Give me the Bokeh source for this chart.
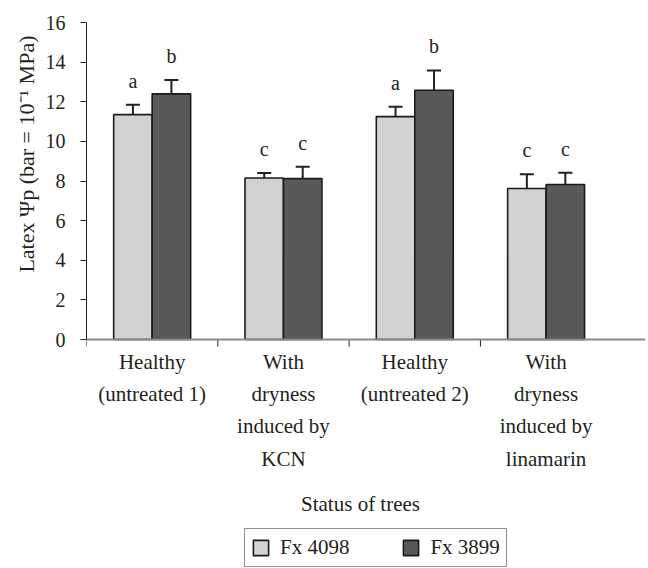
from bokeh.plotting import figure
from bokeh.models import (ColumnDataSource, FixedTicker, Legend, LegendItem,
                          Whisker, TeeHead, Label, Span, Title)
from bokeh.core.properties import value
from bokeh.embed import file_html
from bokeh.resources import INLINE

# ---- data ----
categories = ["Healthy\n(untreated 1)", "With\ndryness\ninduced by\nKCN",
              "Healthy\n(untreated 2)", "With\ndryness\ninduced by\nlinamarin"]
series_names = ["Fx 4098", "Fx 3899"]
fx4098 = [11.35, 8.15, 11.25, 7.62]
fx4098_err = [0.5, 0.25, 0.5, 0.72]
fx3899 = [12.4, 8.12, 12.58, 7.82]
fx3899_err = [0.7, 0.6, 1.0, 0.6]
letters_4098 = ["a", "c", "a", "c"]
letters_3899 = ["b", "c", "b", "c"]
y_ticks = [0, 2, 4, 6, 8, 10, 12, 14, 16]
x_title = "Status of trees"
y_title = "Latex \u03a8p (bar = 10\u207b\u00b9 MPa)"

FONT = "Liberation Serif"
TXT = "#231f20"
LIGHT = "#d1d2d4"
DARK = "#58595b"

bar_w = 0.293
n = len(categories)
centers = [i + 0.5 for i in range(n)]
bounds = list(range(n))

PX = 16 / 317.0          # data units per vertical pixel
Y_MIN = -229 * PX        # frame extends below the axis to hold labels & legend

def src(vals, errs, letters, shift):
    return ColumnDataSource(dict(
        x=[c + shift for c in centers],
        top=vals,
        upper=[v + e for v, e in zip(vals, errs)],
        lower=[v - e for v, e in zip(vals, errs)],
        letter=letters,
    ))

s1 = src(fx4098, fx4098_err, letters_4098, -bar_w / 2)
s2 = src(fx3899, fx3899_err, letters_3899, bar_w / 2)

p = figure(frame_width=559, frame_height=546, x_range=(0, 4.257),
           y_range=(Y_MIN, 16), x_axis_location=None,
           output_backend="svg", toolbar_location=None,
           min_border_left=86, min_border_top=22, min_border_right=3,
           min_border_bottom=0)
p.outline_line_color = None
p.grid.visible = False
p.background_fill_color = "white"

r1 = p.vbar(x="x", top="top", width=bar_w, bottom=0, source=s1,
            fill_color=LIGHT, line_color="#1a1a1a", line_width=1.6)
r2 = p.vbar(x="x", top="top", width=bar_w, bottom=0, source=s2,
            fill_color=DARK, line_color="#1a1a1a", line_width=1.6)

for s in (s1, s2):
    w = Whisker(source=s, base="x", upper="upper", lower="lower",
                line_color=TXT, line_width=2,
                upper_head=TeeHead(size=14, line_width=2, line_color=TXT),
                lower_head=TeeHead(size=14, line_width=2, line_color=TXT))
    p.add_layout(w)
    p.text(x="x", y="upper", text="letter", source=s, text_align="center",
           text_baseline="alphabetic", y_offset=-24,
           text_font=value(FONT), text_font_size="20px", text_color=TXT)

# y axis (line limited to 0..16)
ya = p.yaxis[0]
ya.bounds = (0, 16)
ya.ticker = FixedTicker(ticks=y_ticks)
ya.axis_line_color = TXT
ya.axis_line_width = 1
ya.major_tick_line_color = TXT
ya.major_tick_out = 6
ya.major_tick_in = 0
ya.minor_tick_line_color = None
ya.major_label_text_font = FONT
ya.major_label_text_font_size = "20px"
ya.major_label_text_color = TXT
ya.major_label_standoff = 15

# y axis title, anchored near the top of the value range
p.add_layout(Title(text=y_title, align="right", offset=13,
                   vertical_align="middle", text_font=FONT,
                   text_font_size="22px", text_font_style="normal",
                   text_color=TXT, standoff=6), "left")

# x axis line at y = 0 and small ticks at the category boundaries
p.add_layout(Span(location=0, dimension="width", line_color="#8a8a8a",
                  line_width=2))
p.segment(x0=bounds, y0=[0] * n, x1=bounds, y1=[-7 * PX] * n,
          line_color=TXT, line_width=1)

# category labels
for c, txt in zip(centers, categories):
    p.add_layout(Label(x=c, y=-10 * PX, text=txt, text_align="center",
                       text_baseline="top", text_font=FONT,
                       text_font_size="21px", text_color=TXT,
                       text_line_height=1.35))
p.add_layout(Label(x=274 / 131.3, y=-164 * PX, text=x_title,
                   text_align="center", text_baseline="middle",
                   text_font=FONT, text_font_size="21px", text_color=TXT))

legend = Legend(items=[LegendItem(label=series_names[0], renderers=[r1]),
                       LegendItem(label=series_names[1], renderers=[r2])],
                orientation="horizontal", location=(158, 1),
                glyph_width=19, glyph_height=19, label_standoff=10, spacing=52,
                padding=6, margin=0, border_line_color=TXT, border_line_width=1,
                label_text_font=FONT, label_text_font_size="21px",
                label_text_color=TXT, background_fill_color="white")
p.add_layout(legend)

open("out.html", "w").write(file_html(p, INLINE))
